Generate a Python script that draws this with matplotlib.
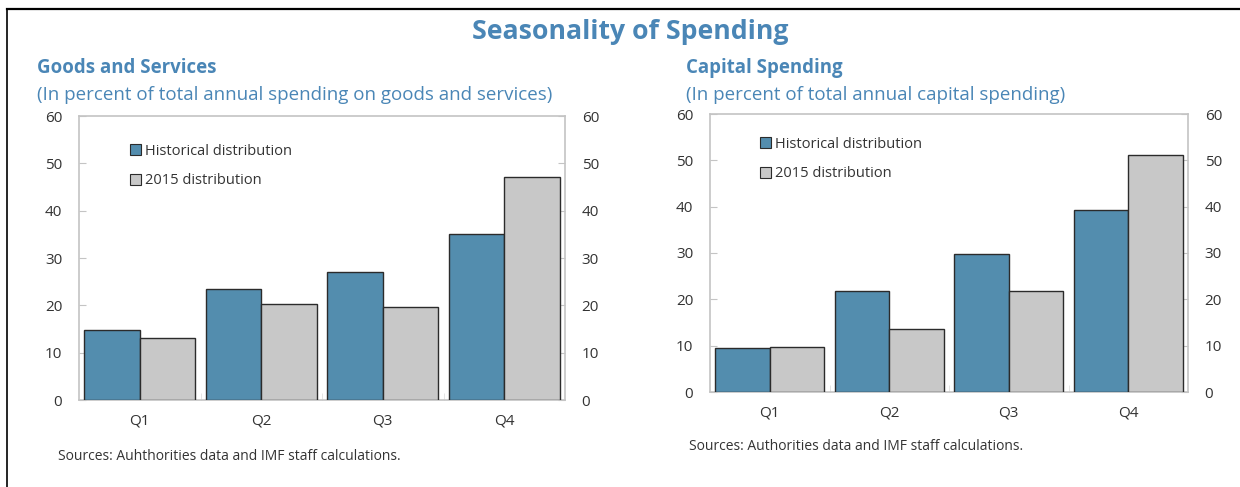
import matplotlib.pyplot as plt
from matplotlib.patches import Patch
from matplotlib.lines import Line2D
import numpy as np

plt.rcParams['font.family'] = ['Open Sans', 'DejaVu Sans']

quarters = ["Q1", "Q2", "Q3", "Q4"]

# goods and services, percent of annual total
gs_hist = [14.7, 23.5, 27.0, 35.0]
gs_2015 = [13.0, 20.2, 19.7, 47.1]

# capital spending, percent of annual total
cap_hist = [9.4, 21.7, 29.7, 39.2]
cap_2015 = [9.8, 13.6, 21.7, 51.1]

yticks = [0, 10, 20, 30, 40, 50, 60]

blue = "#538dae"
grey = "#c8c8c8"
edge = "#2b2b2b"
title_blue = "#4a86b6"
spine_grey = "#c4c4c4"
text_col = "#333333"

W, H = 1240, 487
fig = plt.figure(figsize=(W / 100, H / 100), dpi=100)


def draw_panel(rect, hist, y2015, source, src_xy, leg_anchor):
    ax = fig.add_axes(rect)
    x = np.arange(len(quarters))
    w = 0.455
    ax.bar(x - w / 2, hist, w, color=blue, edgecolor=edge, linewidth=1.0, zorder=3)
    ax.bar(x + w / 2, y2015, w, color=grey, edgecolor=edge, linewidth=1.0, zorder=3)
    ax.set_xlim(-0.5, 3.5)
    ax.set_ylim(0, 60)
    ax.set_yticks(yticks)
    ax.set_xticks(x)
    ax.set_xticklabels(quarters)
    ax.set_xticks([0.5, 1.5, 2.5], minor=True)
    for s in ax.spines.values():
        s.set_color(spine_grey)
        s.set_linewidth(1.2)
    ax.tick_params(axis="y", direction="in", length=5, color=spine_grey,
                   right=True, labelright=True, labelsize=11,
                   labelcolor=text_col, pad=12)
    ax.tick_params(axis="x", which="major", length=0, labelsize=11,
                   labelcolor=text_col, pad=10)
    ax.tick_params(axis="x", which="minor", direction="in", length=5,
                   color="#e0e0e0")
    handles = [Patch(facecolor=blue, edgecolor=edge, linewidth=0.8),
               Patch(facecolor=grey, edgecolor=edge, linewidth=0.8)]
    ax.legend(handles, ["Historical distribution", "2015 distribution"],
              loc="upper left", bbox_to_anchor=leg_anchor, frameon=False,
              handlelength=0.75, handleheight=0.75, handletextpad=0.25,
              labelspacing=1.0, fontsize=10.5, labelcolor=text_col,
              borderaxespad=0)
    fig.text(src_xy[0] / W, 1 - src_xy[1] / H, source, fontsize=10,
             color=text_col, va="center")
    return ax


draw_panel([79 / W, 1 - 400 / H, 486 / W, 284 / H], gs_hist, gs_2015,
           "Sources: Auhthorities data and IMF staff calculations.",
           (58, 457), (0.093, 0.923))
draw_panel([710 / W, 1 - 392 / H, 478 / W, 278 / H], cap_hist, cap_2015,
           "Sources: Authorities data and IMF staff calculations.",
           (689, 447), (0.093, 0.939))

fig.text(630 / W, 1 - 32 / H, "Seasonality of Spending", ha="center",
         va="center", fontsize=19.2, fontweight="bold", color=title_blue)

fig.text(37 / W, 1 - 68 / H, "Goods and Services", va="center",
         fontsize=13.4, fontweight="bold", color=title_blue)
fig.text(37 / W, 1 - 95 / H,
         "(In percent of total annual spending on goods and services)",
         va="center", fontsize=13.5, color=title_blue)
fig.text(686 / W, 1 - 68 / H, "Capital Spending", va="center",
         fontsize=13.4, fontweight="bold", color=title_blue)
fig.text(686 / W, 1 - 95 / H,
         "(In percent of total annual capital spending)",
         va="center", fontsize=13.5, color=title_blue)

# frame edges along the top and left
fig.add_artist(Line2D([7 / W, 1], [1 - 8.5 / H, 1 - 8.5 / H], color="black",
                      linewidth=1.6))
fig.add_artist(Line2D([7 / W, 7 / W], [0, 1 - 8.5 / H], color="black",
                      linewidth=1.2))

fig.savefig("out.png", dpi=100)
